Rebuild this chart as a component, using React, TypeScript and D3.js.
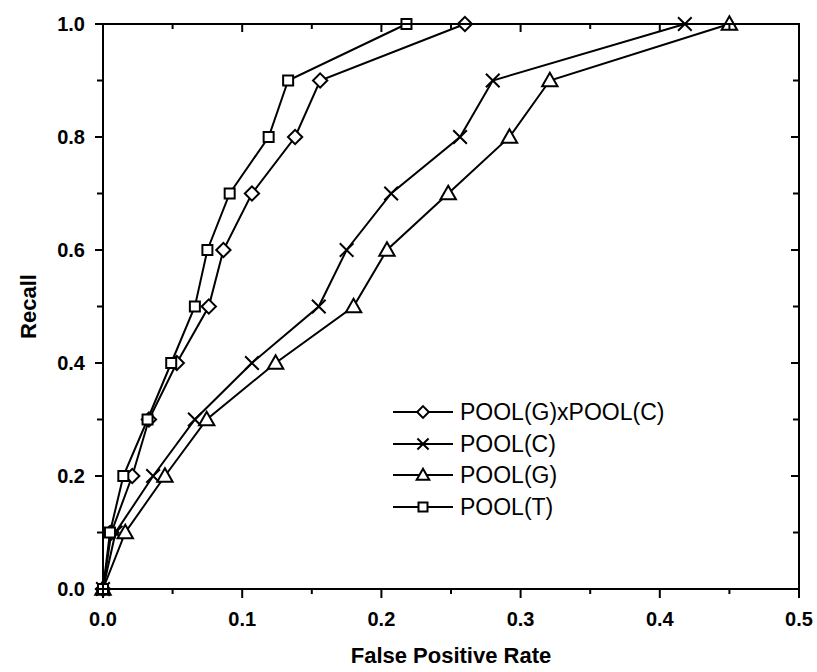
import React from "react";
import * as d3 from "d3";

const recall = [0, 0.1, 0.2, 0.3, 0.4, 0.5, 0.6, 0.7, 0.8, 0.9, 1.0];
const fprGxC = [0, 0.006, 0.021, 0.033, 0.053, 0.076, 0.0865, 0.107, 0.138, 0.156, 0.26];
const fprC = [0, 0.009, 0.036, 0.066, 0.107, 0.155, 0.175, 0.207, 0.2565, 0.28, 0.418];
const fprG = [0, 0.016, 0.0445, 0.0745, 0.124, 0.18, 0.204, 0.248, 0.292, 0.321, 0.45];
const fprT = [0, 0.005, 0.0146, 0.032, 0.049, 0.066, 0.075, 0.091, 0.119, 0.133, 0.218];

const seriesNames = ["POOL(G)xPOOL(C)", "POOL(C)", "POOL(G)", "POOL(T)"];
const seriesShapes = ["diamond", "cross", "triangle", "square"];
const seriesFpr = [fprGxC, fprC, fprG, fprT];

const xTicksMajor = [0, 0.1, 0.2, 0.3, 0.4, 0.5];
const xTicksMinor = [0.05, 0.15, 0.25, 0.35, 0.45];
const yTicksMajor = [0, 0.2, 0.4, 0.6, 0.8, 1.0];
const yTicksMinor = [0.1, 0.3, 0.5, 0.7, 0.9];

const W = 817;
const H = 672;
const L = 103, R = 799, T = 24, B = 589;

function Marker({ shape, x, y, s }: { shape: string; x: number; y: number; s: number }) {
  const sw = 2;
  if (shape === "square") {
    return <rect x={x - s / 2} y={y - s / 2} width={s} height={s} fill="#fff" stroke="#000" strokeWidth={sw} />;
  }
  if (shape === "diamond") {
    const r = s * 0.65;
    return <path d={`M${x},${y - r}L${x + r},${y}L${x},${y + r}L${x - r},${y}Z`} fill="#fff" stroke="#000" strokeWidth={sw} />;
  }
  if (shape === "triangle") {
    const r = s * 0.7;
    return <path d={`M${x},${y - r}L${x + r},${y + r * 0.75}L${x - r},${y + r * 0.75}Z`} fill="#fff" stroke="#000" strokeWidth={sw} />;
  }
  const r = s * 0.62;
  return <path d={`M${x - r},${y - r}L${x + r},${y + r}M${x + r},${y - r}L${x - r},${y + r}`} fill="none" stroke="#000" strokeWidth={sw} />;
}

export default function App() {
  const x = d3.scaleLinear().domain([0, 0.5]).range([L, R]);
  const y = d3.scaleLinear().domain([0, 1]).range([B, T]);
  const line = d3.line<[number, number]>().x((d) => x(d[0])).y((d) => y(d[1]));
  const fmt = d3.format(".1f");
  const font = "'Liberation Sans', Arial, sans-serif";

  const legendY = [412, 444, 475, 507];

  return (
    <svg width={W} height={H} style={{ position: "absolute", left: 0, top: 0, background: "#fff" }}>
      <rect x={0} y={0} width={W} height={H} fill="#fff" />
      {seriesFpr.map((f, i) => (
        <path key={"l" + i} d={line(f.map((v, j) => [v, recall[j]]) as [number, number][]) || ""} fill="none" stroke="#000" strokeWidth={2} />
      ))}
      {seriesFpr.map((f, i) =>
        f.map((v, j) => (
          <Marker key={"m" + i + "_" + j} shape={seriesShapes[i]} x={x(v)} y={y(recall[j])} s={i === 3 ? 10 : 11} />
        ))
      )}
      <rect x={L} y={T} width={R - L} height={B - T} fill="none" stroke="#000" strokeWidth={2} />
      {xTicksMajor.map((t) => (
        <line key={"xb" + t} x1={x(t)} x2={x(t)} y1={B} y2={B + 9} stroke="#000" strokeWidth={2} />
      ))}
      {xTicksMinor.map((t) => (
        <line key={"xbm" + t} x1={x(t)} x2={x(t)} y1={B} y2={B + 5} stroke="#000" strokeWidth={2} />
      ))}
      {xTicksMajor.map((t) => (
        <line key={"xt" + t} x1={x(t)} x2={x(t)} y1={T} y2={T + 8} stroke="#000" strokeWidth={2} />
      ))}
      {xTicksMinor.map((t) => (
        <line key={"xtm" + t} x1={x(t)} x2={x(t)} y1={T} y2={T + 5} stroke="#000" strokeWidth={2} />
      ))}
      {yTicksMajor.map((t) => (
        <line key={"yl" + t} x1={L - 8} x2={L} y1={y(t)} y2={y(t)} stroke="#000" strokeWidth={2} />
      ))}
      {yTicksMinor.map((t) => (
        <line key={"ylm" + t} x1={L - 6} x2={L} y1={y(t)} y2={y(t)} stroke="#000" strokeWidth={2} />
      ))}
      {yTicksMajor.map((t) => (
        <line key={"yr" + t} x1={R - 8} x2={R} y1={y(t)} y2={y(t)} stroke="#000" strokeWidth={2} />
      ))}
      {yTicksMinor.map((t) => (
        <line key={"yrm" + t} x1={R - 6} x2={R} y1={y(t)} y2={y(t)} stroke="#000" strokeWidth={2} />
      ))}
      {xTicksMajor.map((t) => (
        <text key={"xlab" + t} x={x(t)} y={626} textAnchor="middle" fontFamily={font} fontWeight="bold" fontSize={20}>
          {fmt(t)}
        </text>
      ))}
      {yTicksMajor.map((t) => (
        <text key={"ylab" + t} x={85} y={y(t) + 7} textAnchor="end" fontFamily={font} fontWeight="bold" fontSize={20}>
          {fmt(t)}
        </text>
      ))}
      <text x={(L + R) / 2} y={663} textAnchor="middle" fontFamily={font} fontWeight="bold" fontSize={22}>
        False Positive Rate
      </text>
      <text transform={`translate(36,${(T + B) / 2}) rotate(-90)`} textAnchor="middle" fontFamily={font} fontWeight="bold" fontSize={22}>
        Recall
      </text>
      {seriesNames.map((n, i) => (
        <g key={"lg" + i}>
          <line x1={393} x2={453} y1={legendY[i]} y2={legendY[i]} stroke="#000" strokeWidth={2} />
          <Marker shape={seriesShapes[i]} x={423} y={legendY[i]} s={9} />
          <text x={460} y={legendY[i] + 8} fontFamily={font} fontSize={23}>
            {n}
          </text>
        </g>
      ))}
    </svg>
  );
}
